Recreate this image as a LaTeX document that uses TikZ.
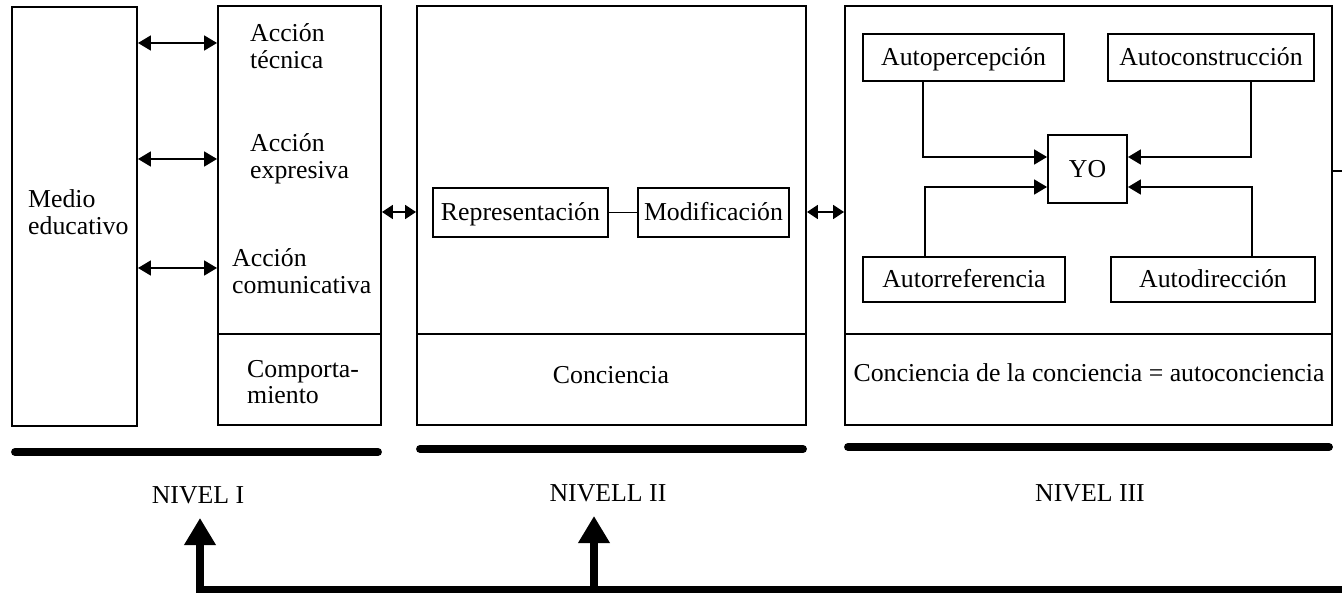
\documentclass[tikz,border=0pt]{standalone}
\usepackage{fontspec}
\setmainfont{Liberation Serif}
\usetikzlibrary{arrows.meta}
\begin{document}
\begin{tikzpicture}[x=1pt,y=-1pt,
  box/.style={draw, line width=1.9pt, inner sep=0pt},
  lbl/.style={font=\fontsize{25.8}{26.5}\selectfont, inner sep=0pt, align=left},
  sbox/.style={draw, line width=1.9pt, inner sep=0pt, text height=19pt, text depth=2pt, font=\fontsize{25.8}{26.5}\selectfont},
  dbl/.style={line width=1.8pt, {Triangle[length=13pt,width=15pt]}-{Triangle[length=13pt,width=15pt]}},
  sdbl/.style={line width=1.8pt, {Triangle[length=11pt,width=14pt]}-{Triangle[length=11pt,width=14pt]}},
  yarr/.style={line width=1.8pt, -{Triangle[length=13pt,width=15pt]}},
  bar/.style={line width=8pt, line cap=round},
  fb/.style={line width=8pt, -{Triangle[length=27pt,width=30pt]}},
]
\useasboundingbox (0,0) rectangle (1342,593);
\fill[white] (0,0) rectangle (1342,593);

% big boxes
\node[box, minimum width=125, minimum height=419] (medio) at (74.5,216.5) {};
\node[box, minimum width=163, minimum height=419] (b2) at (299.5,215.5) {};
\node[box, minimum width=389, minimum height=419] (b3) at (611.5,215.5) {};
\node[box, minimum width=487, minimum height=419] (b4) at (1088.5,215.5) {};

\coordinate (dv) at (0,334);
\draw[line width=1.9pt] (b2.west |- dv) -- (b2.east |- dv);
\draw[line width=1.9pt] (b3.west |- dv) -- (b3.east |- dv);
\draw[line width=1.9pt] (b4.west |- dv) -- (b4.east |- dv);

% texts
\node[lbl, anchor=west] (med) at (28,212) {Medio\\educativo};
\node[lbl, anchor=west] (tec) at (250,46) {Acción\\técnica};
\node[lbl, anchor=west] (exp) at (250,159) {Acción\\expresiva};
\node[lbl, anchor=west] (com) at (232,271) {Acción\\comunicativa};
\node[lbl, anchor=west] (cmp) at (247,382) {Comporta-\\miento};
\node[lbl] (conc) at (611,375) {Conciencia};
\node[lbl] (auto) at (1089,373) {Conciencia de la conciencia = autoconciencia};

% arrows level I
\coordinate (r1) at (0,43);
\coordinate (r2) at (0,159);
\coordinate (r3) at (0,268);
\draw[dbl] (medio.east |- r1) -- (b2.west |- r1);
\draw[dbl] (medio.east |- r2) -- (b2.west |- r2);
\draw[dbl] (medio.east |- r3) -- (b2.west |- r3);

% level II
\node[sbox, minimum width=175, minimum height=49] (rep) at (520.5,212.5) {Representación};
\node[sbox, minimum width=151, minimum height=49] (mod) at (713.5,212.5) {Modificación};
\draw[line width=1pt] (rep) -- (mod);
\coordinate (r4) at (0,212);
\draw[sdbl] (b2.east |- r4) -- (b3.west |- r4);
\draw[sdbl] (b3.east |- r4) -- (b4.west |- r4);

% level III
\node[sbox, minimum width=201, minimum height=47] (ap) at (963.5,57.5) {Autopercepción};
\node[sbox, minimum width=206, minimum height=47] (ac) at (1211,57.5) {Autoconstrucción};
\node[sbox, minimum width=79, minimum height=68] (yo) at (1087.5,169) {YO};
\node[sbox, minimum width=202, minimum height=45] (ar) at (964,279.5) {Autorreferencia};
\node[sbox, minimum width=204, minimum height=45] (ad) at (1213,279.5) {Autodirección};
\coordinate (c1) at (923,157);
\coordinate (c2) at (1251,157);
\coordinate (c3) at (925,187);
\coordinate (c4) at (1252,187);
\draw[yarr] (ap.south -| c1) |- (yo.west |- c1);
\draw[yarr] (ac.south -| c2) |- (yo.east |- c2);
\draw[yarr] (ar.north -| c3) |- (yo.west |- c3);
\draw[yarr] (ad.north -| c4) |- (yo.east |- c4);

% level bars and labels
\coordinate (l1) at (0,452);
\coordinate (l2) at (0,449);
\coordinate (l3) at (0,447);
\draw[bar] ([xshift=4pt]medio.west |- l1) -- ([xshift=-4pt]b2.east |- l1);
\draw[bar] ([xshift=4pt]b3.west |- l2) -- ([xshift=-4pt]b3.east |- l2);
\draw[bar] ([xshift=4pt]b4.west |- l3) -- ([xshift=-4pt]b4.east |- l3);
\node[lbl] (n1) at (198,495) {NIVEL I};
\node[lbl] (n2) at (608,493) {NIVELL II};
\node[lbl] (n3) at (1090,493) {NIVEL III};

% feedback
\coordinate (s) at (0,171);
\coordinate (sr) at (1360,171);
\draw[line width=2.5pt] (b4.east |- s) -- (sr);
\coordinate (br) at (1360,590);
\coordinate (t1) at (200,518);
\coordinate (t2) at (594,516);
\draw[fb, line join=miter] (br) -- (t1 |- br) -- (t1);
\draw[fb] (t2 |- br) -- (t2);
\end{tikzpicture}
\end{document}
